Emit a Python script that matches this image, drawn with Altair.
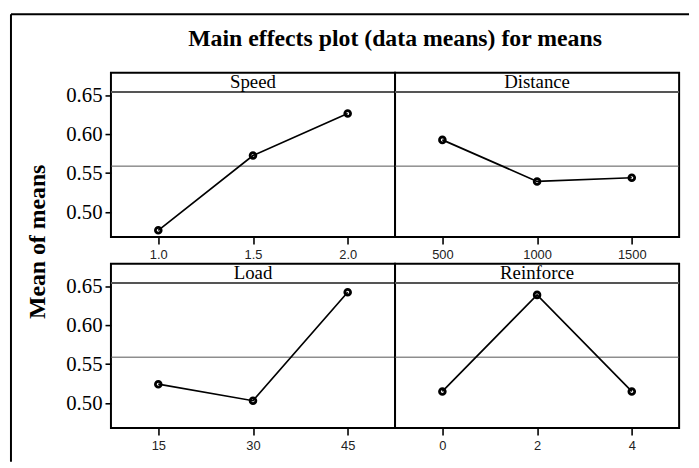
import altair as alt
import pandas as pd

TITLE = "Main effects plot (data means) for means"
Y_TITLE = "Mean of means"
FACTORS = ["Speed", "Distance", "Load", "Reinforce"]
SPEED_LEVELS = ["1.0", "1.5", "2.0"]
SPEED_MEANS = [0.4766, 0.5726, 0.6265]
DISTANCE_LEVELS = ["500", "1000", "1500"]
DISTANCE_MEANS = [0.5927, 0.5394, 0.5441]
LOAD_LEVELS = ["15", "30", "45"]
LOAD_MEANS = [0.5243, 0.5031, 0.6424]
REINFORCE_LEVELS = ["0", "2", "4"]
REINFORCE_MEANS = [0.5150, 0.6390, 0.5150]
GRAND_MEAN = 0.559
Y_TICKS = [0.50, 0.55, 0.60, 0.65]
Y_DOMAIN = [0.468, 0.679]

W, H = 287, 166


def panel(name, levels, means, left=False, ytitle=False, frame=False):
    df = pd.DataFrame({"level": levels, "mean": means})
    one = pd.DataFrame({"mean": [GRAND_MEAN], "name": [name], "title": [TITLE]})
    x = alt.X(
        "level:N", sort=levels,
        scale=alt.Scale(type="point", padding=0.5),
        axis=alt.Axis(title=None, labelAngle=0, labelFont="Liberation Sans",
                      labelFontSize=13, labelColor="#222", tickSize=7,
                      tickWidth=1.6, tickColor="black", domain=False,
                      labelPadding=5, grid=False),
    )
    if left:
        axis_kw = dict(values=Y_TICKS, format=".2f",
                       labelFont="Liberation Serif", labelFontSize=21,
                       labelColor="black", tickSize=6, tickWidth=1.6,
                       tickColor="black", labelPadding=3, domain=False,
                       grid=False)
        if ytitle:
            axis_kw.update(title=Y_TITLE, titleX=-67, titleY=170.4,
                           titleAngle=270, titleBaseline="alphabetic",
                           titleAlign="center", titleFont="Liberation Serif",
                           titleFontSize=24, titleFontWeight="bold",
                           titleColor="black")
        else:
            axis_kw.update(title=None)
        yaxis = alt.Axis(**axis_kw)
    else:
        yaxis = None
    y = alt.Y("mean:Q", scale=alt.Scale(domain=Y_DOMAIN, nice=False, zero=False),
              axis=yaxis)

    ref = alt.Chart(one).mark_rule(color="#555", strokeWidth=1).encode(y=y)
    strip_line = alt.Chart(one).mark_rule(color="#555", strokeWidth=2).encode(
        x=alt.value(0), x2=alt.value(W), y=alt.value(19.5))
    strip_text = alt.Chart(one).mark_text(
        font="Liberation Serif", fontSize=19, baseline="alphabetic",
        align="center", color="black").encode(
        x=alt.value(W / 2), y=alt.value(15.5), text="name:N")
    base = alt.Chart(df)
    line = base.mark_line(color="black", strokeWidth=1.7).encode(x=x, y=y)
    pts = base.mark_point(shape="circle", filled=False, color="black",
                          strokeWidth=2.8, size=34, opacity=1).encode(x=x, y=y)
    layers = [ref, strip_line, strip_text, line, pts]
    if frame:
        fv = alt.Chart(one).mark_rule(color="black", strokeWidth=2).encode(
            x=alt.value(-101), y=alt.value(-59), y2=alt.value(393))
        fh = alt.Chart(one).mark_rule(color="black", strokeWidth=2).encode(
            x=alt.value(-101), x2=alt.value(584), y=alt.value(-59))
        ttl = alt.Chart(one).mark_text(
            font="Liberation Serif", fontSize=24, fontWeight="bold",
            baseline="alphabetic", align="center", color="black").encode(
            x=alt.value(W), y=alt.value(-27), text="title:N")
        layers += [fv, fh, ttl]
    return alt.layer(*layers).properties(width=W, height=H)


p1 = panel(FACTORS[0], SPEED_LEVELS, SPEED_MEANS, left=True, ytitle=True,
           frame=True)
p2 = panel(FACTORS[1], DISTANCE_LEVELS, DISTANCE_MEANS)
p3 = panel(FACTORS[2], LOAD_LEVELS, LOAD_MEANS, left=True)
p4 = panel(FACTORS[3], REINFORCE_LEVELS, REINFORCE_MEANS)

chart = alt.concat(
    p1, p2, p3, p4, columns=2, bounds="flush",
    spacing=alt.RowColnumber(row=27, column=0),
).properties(
    padding={"left": 1, "top": 2, "right": 0, "bottom": 0},
    background="white",
).configure_view(stroke="black", strokeWidth=2)

chart.save("out.html", embed_options={"renderer": "svg", "actions": False})
